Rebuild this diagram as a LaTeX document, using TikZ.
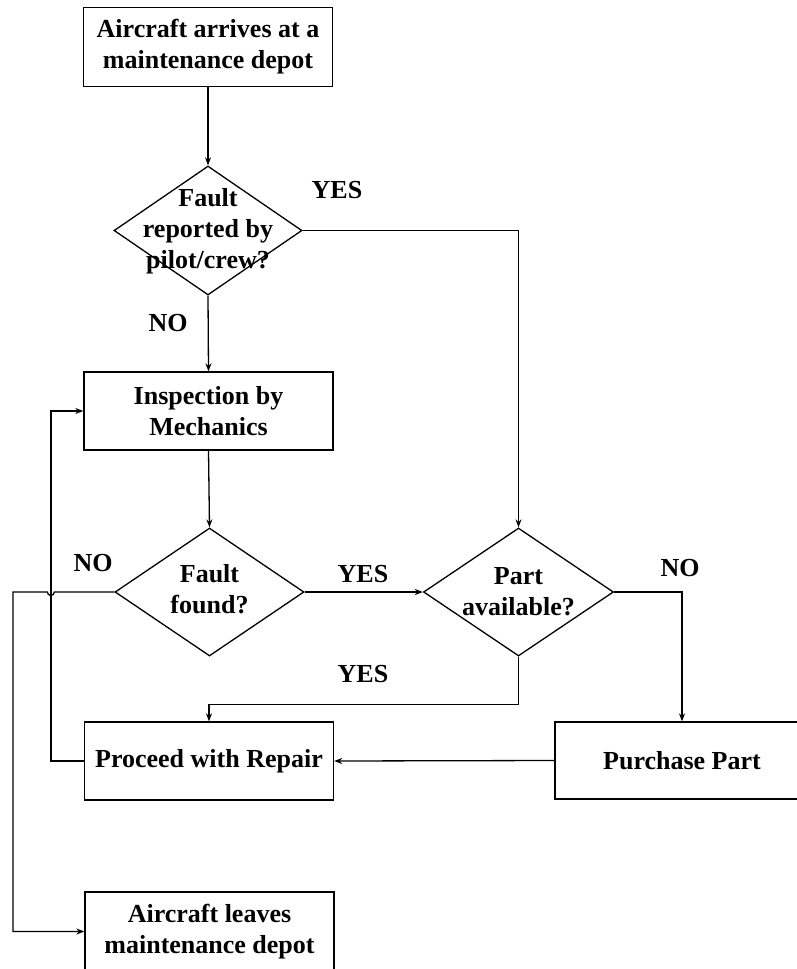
\documentclass[tikz,border=0pt]{standalone}
\usepackage{fontspec}
\setmainfont{Liberation Serif}
\usetikzlibrary{arrows.meta,shapes.geometric}
\begin{document}
\begin{tikzpicture}[x=1pt,y=-1pt,
  font=\fontsize{26}{31}\selectfont\bfseries,
  line width=1.3pt,
  procbox/.style={draw, rectangle, inner sep=0pt, minimum width=249pt, minimum height=79pt, align=center},
  decision/.style={draw, diamond, inner sep=0pt, minimum width=189pt, minimum height=128pt},
  dtext/.style={align=center, inner sep=0pt},
  flow/.style={-{Stealth[length=8pt,width=6pt]}},
  answer/.style={inner sep=0pt}]

\clip (0,0) rectangle (797,969);

% process boxes
\node[procbox] (arrive) at (208,47) {Aircraft arrives at a\\maintenance depot};
\node[procbox, minimum height=78pt] (inspect) at (208.5,411) {Inspection by\\Mechanics};
\node[procbox, minimum height=78pt] (repair) at (209,761) {Proceed with Repair};
\node[procbox, minimum width=254pt, minimum height=77pt] (purchase) at (682,760.5) {Purchase Part};
\node[procbox] (leave) at (209.5,931.5) {Aircraft leaves\\maintenance depot};

% decisions (text set independently of the diamond outline)
\node[decision, minimum width=188pt, minimum height=129pt] (reported) at (208,230.5) {};
\node[dtext] (reportedtxt) at (208,231) {Fault\\reported by\\pilot/crew?};
\node[decision] (found) at (209.5,592) {};
\node[dtext] (foundtxt) at (209.5,589) {Fault\\found?};
\node[decision, minimum width=190pt] (avail) at (518.5,592) {};
\node[dtext] (availtxt) at (518.5,591.5) {Part\\available?};

% branch labels
\node[answer] (yes1) at (337,190) {YES};
\node[answer] (no1) at (168,323) {NO};
\node[answer] (no2) at (93,563) {NO};
\node[answer] (yes2) at (363,574) {YES};
\node[answer] (no3) at (680,568) {NO};
\node[answer] (yes3) at (363,674) {YES};

% connectors
\draw[flow] (arrive.south) -- (reported.north);
\draw[flow] (reported.east) -| (avail.north);
\draw[flow] (reported.south) -- (inspect.north);
\draw[flow] (inspect.south) -- (found.north);
\draw[flow] (found.east) -- (avail.west);
\draw[flow] (avail.east) -| (purchase.north);
\draw[flow] (avail.south) -- ++(0,48) coordinate (availbend) -| (repair.north);
\draw[flow] (purchase.west) -- (repair.east);
\draw[flow] (repair.west) -- ++(-33,0) coordinate (loopcorner) |- (inspect.west);
\coordinate (hopstart) at ([xshift=3.5pt]loopcorner |- found.west);
\coordinate (exitcorner) at (13,592);
\draw[flow] (found.west) -- (hopstart)
  arc[start angle=0, end angle=-180, radius=3.5pt]
  -- (exitcorner) |- (leave.west);

\end{tikzpicture}
\end{document}
